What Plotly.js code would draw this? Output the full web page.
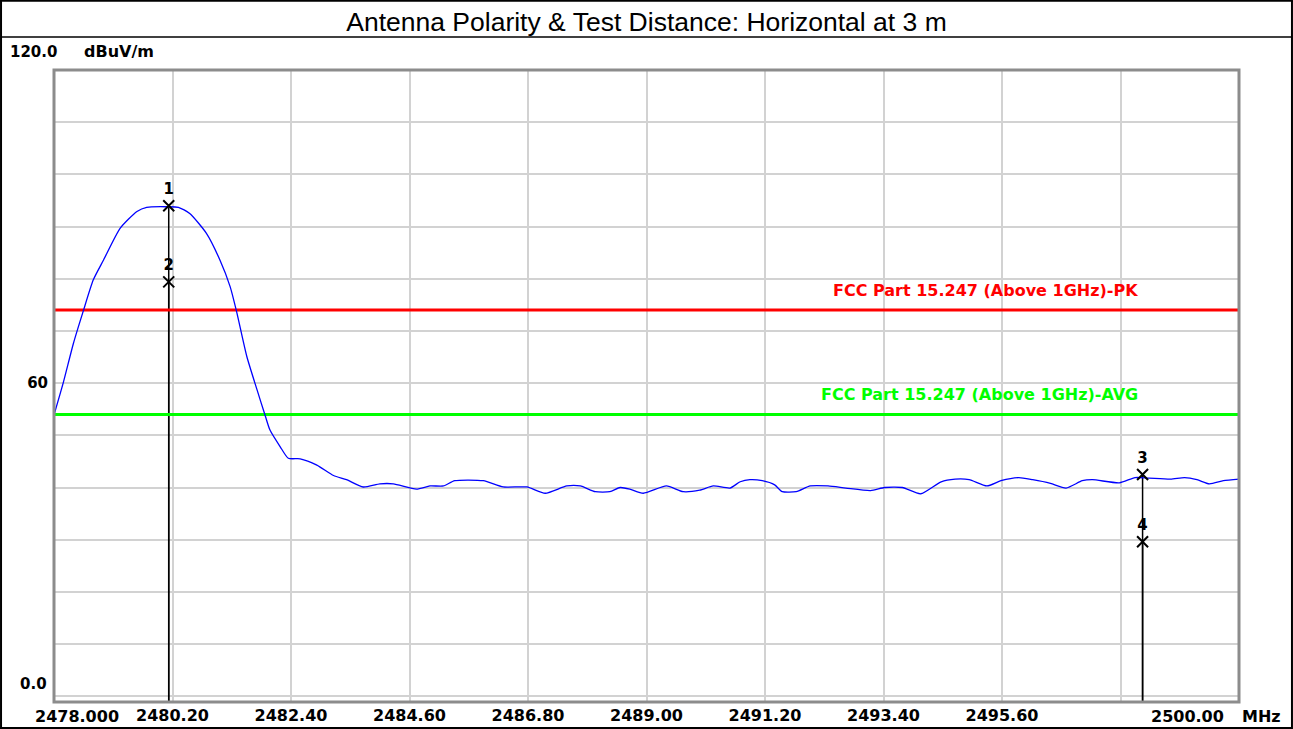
<!DOCTYPE html>
<html>
<head>
<meta charset="utf-8">
<script src="https://cdn.plot.ly/plotly-3.0.1.min.js"></script>
<style>
  html, body { margin: 0; padding: 0; background: #ffffff; }
  #chart { width: 1293px; height: 729px; }
</style>
</head>
<body>
<div id="chart"></div>
<script>
// ---- data ----
const titleText = "Antenna Polarity & Test Distance: Horizontal at 3 m";
const yUnit = "dBuV/m";
const xUnit = "MHz";

const freqMHz = [
  2478.00, 2478.17, 2478.36, 2478.54, 2478.73, 2478.92, 2479.23, 2479.54, 2479.72, 2480.09,
  2480.31, 2480.52, 2480.83, 2481.08, 2481.27, 2481.39, 2481.58, 2481.77, 2481.92, 2482.01,
  2482.20, 2482.35, 2482.57, 2482.88, 2483.19, 2483.43, 2483.74, 2484.05, 2484.30, 2484.73,
  2484.98, 2485.23, 2485.44, 2485.97, 2486.34, 2486.78, 2487.12, 2487.52, 2487.77, 2488.05,
  2488.32, 2488.51, 2488.69, 2488.94, 2489.37, 2489.68, 2489.99, 2490.24, 2490.55, 2490.74,
  2490.92, 2491.15, 2491.38, 2491.52, 2491.78, 2492.04, 2492.37, 2492.70, 2493.16, 2493.42,
  2493.75, 2494.09, 2494.47, 2494.73, 2494.99, 2495.32, 2495.58, 2495.91, 2496.17, 2496.50,
  2496.79, 2497.09, 2497.28, 2497.78, 2498.07, 2498.33, 2498.73, 2498.99, 2499.22, 2499.45,
  2499.71, 2500.00
];
const levelDbuv = [
  53.9, 60.0, 67.6, 73.7, 79.8, 83.6, 89.7, 92.9, 93.7, 93.8,
  93.7, 92.5, 88.7, 83.6, 78.5, 73.7, 65.1, 58.7, 53.8, 51.0,
  47.8, 45.6, 45.5, 44.3, 42.3, 41.5, 40.1, 40.7, 40.7, 39.7,
  40.3, 40.3, 41.3, 41.3, 40.1, 40.1, 38.9, 40.3, 40.3, 39.2,
  39.2, 40.0, 39.7, 38.9, 40.3, 39.2, 39.5, 40.3, 39.9, 41.1,
  41.5, 41.3, 40.5, 39.2, 39.2, 40.3, 40.3, 39.9, 39.4, 40.0,
  40.0, 38.8, 41.1, 41.6, 41.5, 40.3, 41.3, 41.9, 41.5, 40.8,
  39.9, 41.3, 41.5, 40.9, 41.9, 41.8, 41.6, 41.9, 41.5, 40.7,
  41.3, 41.6
];

const markerLabels = ["1", "2", "3", "4"];
const markerFreq = [2480.13, 2480.13, 2498.21, 2498.21];
const markerLevel = [94.0, 79.4, 42.5, 29.6];

const limitNames = ["FCC Part 15.247 (Above 1GHz)-PK", "FCC Part 15.247 (Above 1GHz)-AVG"];
const limitLevels = [74, 54];
const limitColors = ["#ff0000", "#00ff00"];

const xRange = [2478, 2500];
const yRange = [-1.1, 120];
const xTickVals = [2478.0, 2480.2, 2482.4, 2484.6, 2486.8, 2489.0, 2491.2, 2493.4, 2495.6, 2497.8, 2500.0];
const xTickText = ["2478.000", "2480.20", "2482.40", "2484.60", "2486.80", "2489.00", "2491.20", "2493.40", "2495.60", "", "2500.00"];
const yTickVals = [0, 10, 20, 30, 40, 50, 60, 70, 80, 90, 100, 110, 120];
const yTickText = ["0.0", "", "", "", "", "", "60", "", "", "", "", "", "120.0"];

// ---- traces ----
const traces = [];

// marker drop lines
for (let i = 0; i < markerFreq.length; i++) {
  traces.push({
    x: [markerFreq[i], markerFreq[i]],
    y: [markerLevel[i], yRange[0]],
    mode: "lines",
    line: { color: "#000000", width: 1.5 },
    hoverinfo: "skip", showlegend: false
  });
}

// limit lines
for (let i = 0; i < limitLevels.length; i++) {
  traces.push({
    x: xRange,
    y: [limitLevels[i], limitLevels[i]],
    mode: "lines",
    line: { color: limitColors[i], width: 3 },
    name: limitNames[i], showlegend: false
  });
}

// measured trace
traces.push({
  x: freqMHz, y: levelDbuv,
  mode: "lines",
  line: { color: "#0000ff", width: 1.3, shape: "spline", smoothing: 0.6 },
  name: "Horizontal", showlegend: false
});

// markers
traces.push({
  x: markerFreq, y: markerLevel,
  mode: "markers+text",
  text: markerLabels,
  textposition: "top center",
  textfont: { family: "DejaVu Sans", size: 15, color: "#000000", weight: "bold" },
  marker: { symbol: "x-thin-open", size: 11, color: "#000000", line: { color: "#000000", width: 2 } },
  showlegend: false, hoverinfo: "x+y"
});

// ---- annotations ----
const bold = { family: "DejaVu Sans", weight: "bold" };
const annotations = [
  { xref: "paper", yref: "paper", x: -0.0388, y: 1.0285, xanchor: "left", yanchor: "middle",
    text: yTickText[yTickText.length - 1], showarrow: false, font: Object.assign({ size: 15, color: "#000" }, bold) },
  { xref: "paper", yref: "paper", x: 0.0236, y: 1.0285, xanchor: "left", yanchor: "middle",
    text: yUnit, showarrow: false, font: Object.assign({ size: 16, color: "#000" }, bold) },
  { xref: "paper", yref: "y", x: 0, xshift: -5, y: yTickVals[0], yshift: 12, xanchor: "right", yanchor: "middle",
    text: yTickText[0], showarrow: false, font: Object.assign({ size: 15, color: "#000" }, bold) },
  { xref: "x", yref: "paper", x: xTickVals[0], xshift: 22.5, y: -0.0237, xanchor: "center", yanchor: "middle",
    text: xTickText[0], showarrow: false, font: Object.assign({ size: 16, color: "#000" }, bold) },
  { xref: "x", yref: "paper", x: xTickVals[xTickVals.length - 1], xshift: -52, y: -0.0237, xanchor: "center", yanchor: "middle",
    text: xTickText[xTickText.length - 1], showarrow: false, font: Object.assign({ size: 16, color: "#000" }, bold) },
  { xref: "x", yref: "paper", x: xRange[1], xshift: 1, y: -0.0237, xanchor: "left", yanchor: "middle",
    text: xUnit, showarrow: false, font: Object.assign({ size: 16, color: "#000" }, bold) }
];
for (let i = 0; i < limitLevels.length; i++) {
  annotations.push({
    xref: "x", yref: "y", x: 2498.16, y: limitLevels[i], xanchor: "right", yanchor: "middle",
    yshift: 20, text: limitNames[i], showarrow: false,
    font: Object.assign({ size: 16, color: limitColors[i] }, bold)
  });
}

// ticktext with end labels blanked (they are drawn as offset annotations)
const xTickTextAxis = xTickText.map((t, i) => (i === 0 || i === xTickText.length - 1) ? "" : t);
const yTickTextAxis = yTickText.map((t, i) => (i === 0 || i === yTickText.length - 1) ? "" : t);

const layout = {
  width: 1293, height: 729,
  paper_bgcolor: "#ffffff", plot_bgcolor: "#ffffff",
  margin: { l: 54, r: 54, t: 70, b: 27, pad: 0 },
  title: {
    text: titleText,
    font: { family: "Liberation Sans, Arial", size: 26.5, color: "#000000" },
    x: 0.5, xref: "paper", xanchor: "center",
    y: 0.970, yref: "container", yanchor: "middle"
  },
  xaxis: {
    range: xRange, tickmode: "array", tickvals: xTickVals, ticktext: xTickTextAxis,
    showgrid: true, gridcolor: "#d2d2d2", gridwidth: 2, zeroline: false,
    showline: false, ticks: "", ticklabelstandoff: 2,
    tickfont: { family: "DejaVu Sans", size: 16, color: "#000", weight: "bold" },
    fixedrange: true
  },
  yaxis: {
    range: yRange, tickmode: "array", tickvals: yTickVals, ticktext: yTickTextAxis,
    showgrid: true, gridcolor: "#d2d2d2", gridwidth: 2, zeroline: false,
    showline: false, ticks: "", ticklabelstandoff: 5,
    tickfont: { family: "DejaVu Sans", size: 15, color: "#000", weight: "bold" },
    fixedrange: true
  },
  shapes: [
    // plot frame
    { type: "rect", xref: "paper", yref: "paper", x0: 0, x1: 1, y0: 0, y1: 1,
      line: { color: "#8c8c8c", width: 3 }, layer: "above" },
    // outer border
    { type: "rect", xref: "paper", yref: "paper", x0: -0.0447, x1: 1.0447, y0: -0.0411, y1: 1.1095,
      line: { color: "#000000", width: 2 }, layer: "above" },
    // title separator
    { type: "line", xref: "paper", yref: "paper", x0: -0.0447, x1: 1.0447, y0: 1.0522, y1: 1.0522,
      line: { color: "#000000", width: 1.5 }, layer: "above" }
  ],
  annotations: annotations,
  showlegend: false
};

Plotly.newPlot("chart", traces, layout, { displayModeBar: false, staticPlot: true });
</script>
</body>
</html>
